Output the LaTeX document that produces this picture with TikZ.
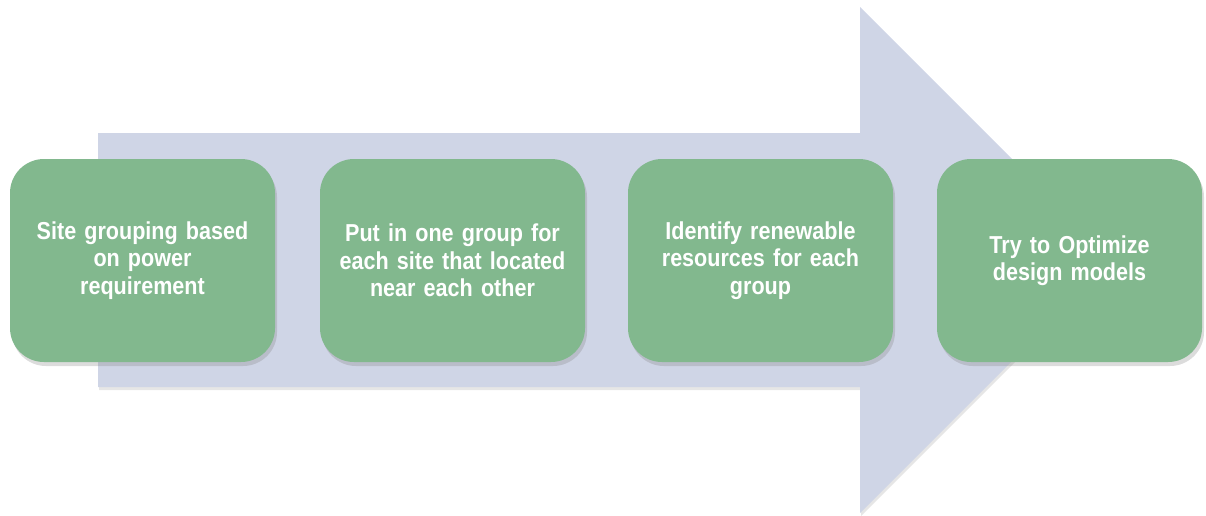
\documentclass[tikz,border=0pt]{standalone}
\usepackage{fontspec}
\setmainfont[FakeStretch=0.88,WordSpace=0.6]{Liberation Sans}
\usetikzlibrary{shadows}
\definecolor{boxgreen}{RGB}{130,184,142}
\definecolor{arrowblue}{RGB}{207,213,230}
\begin{document}
\begin{tikzpicture}[x=1pt,y=-1pt,
  stepbox/.style={draw=none,fill=boxgreen,rounded corners=34pt,
    minimum width=265pt,minimum height=203pt,inner sep=0pt,
    text=white,text width=240pt,align=center,
    font=\fontsize{24.5}{27.5}\selectfont\bfseries,
    drop shadow={opacity=0.28,shadow xshift=2pt,shadow yshift=-4pt}},
  bigarrow/.style={fill=arrowblue,draw=none,
    drop shadow={opacity=0.2,shadow xshift=1pt,shadow yshift=-3pt}}]
\useasboundingbox (0,0) rectangle (1206,515);
\path[bigarrow] (98,133) -- (860,133) -- (860,7) -- (1113,260) -- (860,513) -- (860,387) -- (98,387) -- cycle;
\node[stepbox] (s1) at (142.5,260.5) {Site grouping based\\on power\\requirement};
\node[stepbox] (s2) at (452.5,260.5) {Put in one group for\\each site that located\\near each other};
\node[stepbox] (s3) at (760.5,260.5) {Identify renewable\\resources for each\\group};
\node[stepbox] (s4) at (1069.5,260.5) {Try to Optimize\\design models};
\end{tikzpicture}
\end{document}
